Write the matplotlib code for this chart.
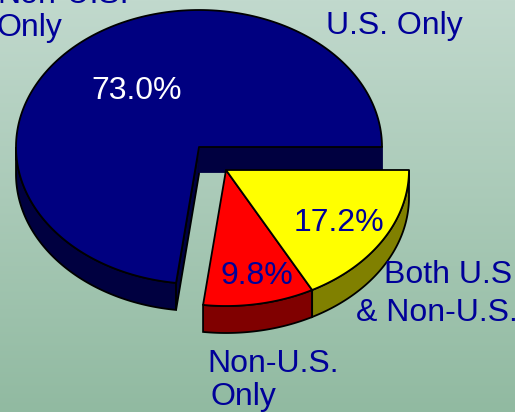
import numpy as np
import matplotlib
matplotlib.use('Agg')
import matplotlib.pyplot as plt
from matplotlib.colors import LinearSegmentedColormap

# slice shares, going counter-clockwise from the right hand side
shares = [73.0, 9.8, 17.2]
top_colors = ['#000080', '#FF0000', '#FFFF00']
side_colors = ['#000040', '#800000', '#808000']
pct_labels = ['73.0%', '9.8%', '17.2%']
pct_colors = ['white', '#000099', '#000099']
pct_pos = [(91, 99), (220, 284), (294, 231)]

names = ['Non-U.S.', 'Only', 'U.S. Only', 'Both U.S.', '& Non-U.S.', 'Non-U.S.', 'Only']
name_pos = [(-3, 3), (-3, 36), (326, 34), (384, 283), (356, 321), (207, 372), (210, 405)]

TEXT_BLUE = '#000099'
DEPTH = 27


def arc(cx, cy, rx, ry, a0, a1):
    """Points along an ellipse arc, y axis points down like the image."""
    t = np.radians(np.linspace(a0, a1, 200))
    return np.column_stack([cx + rx * np.cos(t), cy - ry * np.sin(t)])


def draw_top(ax, cx, cy, rx, ry, a0, a1, color):
    pts = np.vstack([[cx, cy], arc(cx, cy, rx, ry, a0, a1)])
    ax.fill(pts[:, 0], pts[:, 1], facecolor=color, edgecolor='black', lw=1.3, joinstyle='round', zorder=3)


def draw_side(ax, cx, cy, rx, ry, a0, a1, color):
    edge = arc(cx, cy, rx, ry, a0, a1)
    low = edge + [0, DEPTH]
    pts = np.vstack([edge, low[::-1]])
    ax.fill(pts[:, 0], pts[:, 1], facecolor=color, edgecolor='black', lw=1.3, zorder=2)


fig = plt.figure(figsize=(5.15, 4.12), dpi=100)
ax = fig.add_axes([0, 0, 1, 1])
plt.rcParams['font.family'] = ['Liberation Sans', 'DejaVu Sans']

# background gradient, lighter at the top
bg = LinearSegmentedColormap.from_list('bg', ['#C1D9CD', '#91BAA1'])
ax.imshow(np.linspace(0, 1, 256).reshape(-1, 1), cmap=bg, aspect='auto', extent=(0, 515, 412, 0), zorder=0)

angles = np.concatenate([[0], np.cumsum(shares) * 3.6])

# main slice, stays in place
cx, cy, rx, ry = 199, 147, 183, 137
a0, a1 = angles[0], angles[1]
draw_side(ax, cx, cy, rx, ry, 180, a1, side_colors[0])
end = arc(cx, cy, rx, ry, a1, a1)[0]
ax.fill([cx, end[0], end[0], cx], [cy, end[1], end[1] + DEPTH, cy + DEPTH],
        facecolor=side_colors[0], edgecolor='black', lw=1.3, zorder=2)
ax.fill([cx, cx + rx, cx + rx, cx], [cy, cy, cy + DEPTH - 2, cy + DEPTH - 2],
        facecolor=side_colors[0], edgecolor=side_colors[0], lw=1.3, zorder=2)
draw_top(ax, cx, cy, rx, ry, a0, a1, top_colors[0])

# the two pulled out slices
cx, cy, rx, ry = 226, 170, 183, 136
for i in [1, 2]:
    draw_side(ax, cx, cy, rx, ry, angles[i], angles[i + 1], side_colors[i])
for i in [1, 2]:
    draw_top(ax, cx, cy, rx, ry, angles[i], angles[i + 1], top_colors[i])

for label, color, (x, y) in zip(pct_labels, pct_colors, pct_pos):
    ax.text(x, y, label, color=color, fontsize=23, ha='left', va='baseline', zorder=5)

for name, (x, y) in zip(names, name_pos):
    ax.text(x, y, name, color=TEXT_BLUE, fontsize=23, ha='left', va='baseline', zorder=5)

ax.set_xlim(0, 515)
ax.set_ylim(412, 0)
ax.axis('off')

plt.savefig('out.png', dpi=100)
